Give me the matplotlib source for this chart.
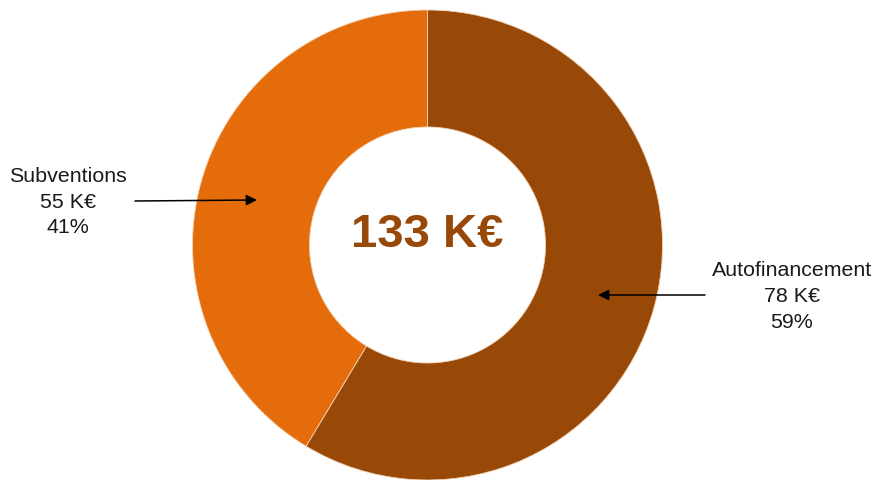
import matplotlib
matplotlib.use('Agg')
import matplotlib.pyplot as plt

# Data
labels = ['Autofinancement', 'Subventions']
values = [78, 55]  # K€
colors = ['#984807', '#E46C0A']

total = sum(values)
percents = [round(v / total * 100) for v in values]

plt.rcParams['font.family'] = ['Liberation Sans', 'DejaVu Sans']

W, H = 876, 481
fig = plt.figure(figsize=(W / 100, H / 100), dpi=100)
ax = fig.add_axes([0, 0, 1, 1])

# Donut (image coords: centre 427.5, 246; outer r 235; inner r 118)
cx, cy, r = 427.5, H - 246, 235
ax.pie(values, colors=colors, startangle=90, counterclock=False,
       center=(cx, cy), radius=r, frame=True,
       wedgeprops=dict(width=r - 118, edgecolor='#F3D3B5', linewidth=0.6))
ax.set_xlim(0, W)
ax.set_ylim(0, H)
ax.set_aspect('equal')
ax.axis('off')

ax.text(cx, H - 235, f'{total} K€', ha='center', va='center',
        fontsize=34, fontweight='bold', color=colors[0])

# Labels with arrows: (text centre x, first line y, arrow start, arrow end)
label_pos = {
    'Subventions': (68, 177, (135, 202), (257, 201)),
    'Autofinancement': (792, 271, (705, 296), (598, 296)),
}
for lab, v, p in zip(labels, values, percents):
    tx, ty, a0, a1 = label_pos[lab]
    for i, line in enumerate([lab, f'{v} K€', f'{p}%']):
        ax.text(tx, H - (ty + i * 25.5), line, ha='center', va='center',
                fontsize=15.4, color='#1a1a1a')
    ax.annotate('', xy=(a1[0], H - a1[1]), xytext=(a0[0], H - a0[1]),
                arrowprops=dict(arrowstyle='-|>', color='black', lw=1.1,
                                mutation_scale=16, shrinkA=0, shrinkB=0))

fig.savefig('out.png', dpi=100, facecolor='white')
